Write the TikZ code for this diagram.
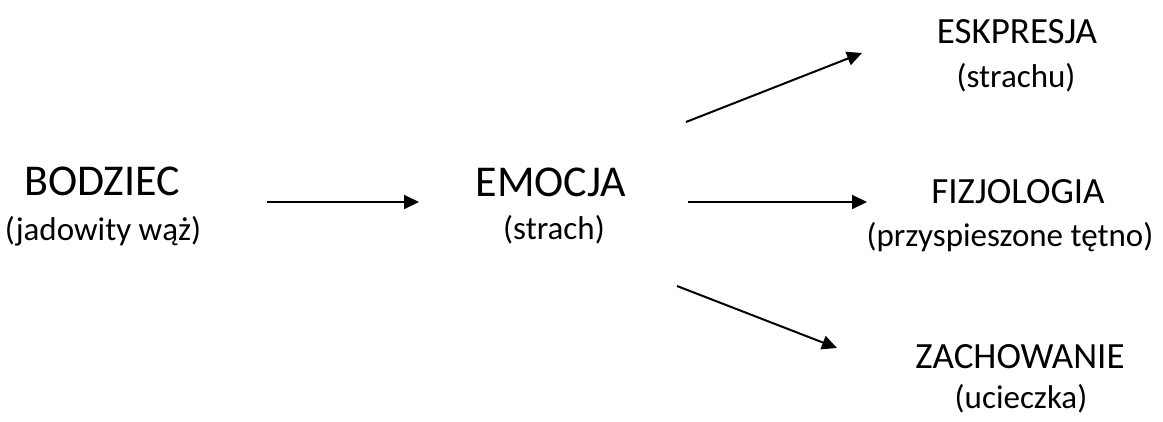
\documentclass[tikz,border=0pt]{standalone}
\usepackage{fontspec}
\setmainfont{Carlito}
\usetikzlibrary{arrows.meta}
\tikzset{
  bigtitle/.style={anchor=base, inner sep=0pt, font=\fontsize{44}{50}\selectfont},
  smalltitle/.style={anchor=base, inner sep=0pt, font=\fontsize{37}{42}\selectfont},
  subtitle/.style={anchor=base, inner sep=0pt, font=\fontsize{33}{38}\selectfont},
  arr/.style={line width=2pt, -{Triangle[length=15pt,width=14pt]}}
}
\begin{document}
\begin{tikzpicture}[x=1pt,y=-1pt]
\useasboundingbox (0,0) rectangle (1163,421);
\node[bigtitle] (bodziec) at (102,195) {BODZIEC};
\node[subtitle] (bodziecsub) at (103,240) {(jadowity wąż)};
\node[bigtitle] (emocja) at (551,196) {EMOCJA};
\node[subtitle] (emocjasub) at (554,239) {(strach)};
\node[smalltitle] (ekspresja) at (1017,43) {ESKPRESJA};
\node[subtitle] (ekspresjasub) at (1016,87) {(strachu)};
\node[smalltitle] (fizjologia) at (1018,203) {FIZJOLOGIA};
\node[subtitle] (fizjologiasub) at (1010,246) {(przyspieszone tętno)};
\node[smalltitle] (zachowanie) at (1020,368) {ZACHOWANIE};
\node[subtitle] (zachowaniesub) at (1021,408) {(ucieczka)};
\coordinate (a1s) at (267,202);
\coordinate (a1e) at (419,202);
\coordinate (a2s) at (688,202);
\coordinate (a2e) at (867,202);
\coordinate (a3s) at (686,122);
\coordinate (a3e) at (862,53);
\coordinate (a4s) at (677,286);
\coordinate (a4e) at (837,348);
\draw[arr] (a1s) -- (a1e);
\draw[arr] (a2s) -- (a2e);
\draw[arr] (a3s) -- (a3e);
\draw[arr] (a4s) -- (a4e);
\end{tikzpicture}
\end{document}
